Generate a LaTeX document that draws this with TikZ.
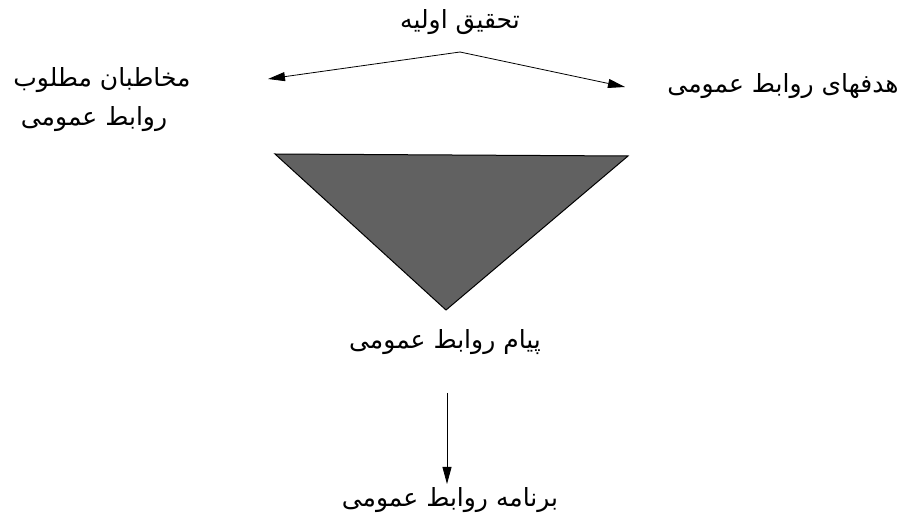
\documentclass[tikz,border=0pt]{standalone}
\usepackage{fontspec}
\newfontfamily\arabicfont[Script=Arabic]{DejaVu Sans}
\TeXXeTstate=1
\usetikzlibrary{arrows.meta}
\begin{document}
\begin{tikzpicture}[x=1pt,y=-1pt,
  lbl/.style={font=\arabicfont\fontsize{25}{28}\selectfont, inner sep=0pt, anchor=center},
  arr/.style={-{Triangle[length=17pt,width=9pt]}, line width=0.8pt}]
\useasboundingbox[fill=white] (0,0) rectangle (908,518);
% labels
\node[lbl] (tahqiq) at (460,22) {\beginR تحقیق اولیه\endR};
\node[lbl] (mokh1) at (102,80) {\beginR مخاطبان مطلوب\endR};
\node[lbl] (mokh2) at (94,119) {\beginR روابط عمومی\endR};
\node[lbl] (hadaf) at (783,86) {\beginR هدفهای روابط عمومی\endR};
\node[lbl] (payam) at (445,342) {\beginR پیام روابط عمومی\endR};
\node[lbl] (barnameh) at (450,500) {\beginR برنامه روابط عمومی\endR};
% connector points
\coordinate (peak) at (460,52);
\coordinate (lefttip) at (268,79);
\coordinate (righttip) at (625,87);
\coordinate (vtop) at (447,393);
\coordinate (vtip) at (447,484);
\draw[arr] (peak) -- (lefttip);
\draw[arr] (peak) -- (righttip);
\draw[arr] (vtop) -- (vtip);
% triangle
\coordinate (t1) at (275,154);
\coordinate (t2) at (628,156);
\coordinate (t3) at (446,310);
\draw[line width=1pt, fill=black!62] (t1) -- (t2) -- (t3) -- cycle;
\end{tikzpicture}
\end{document}
